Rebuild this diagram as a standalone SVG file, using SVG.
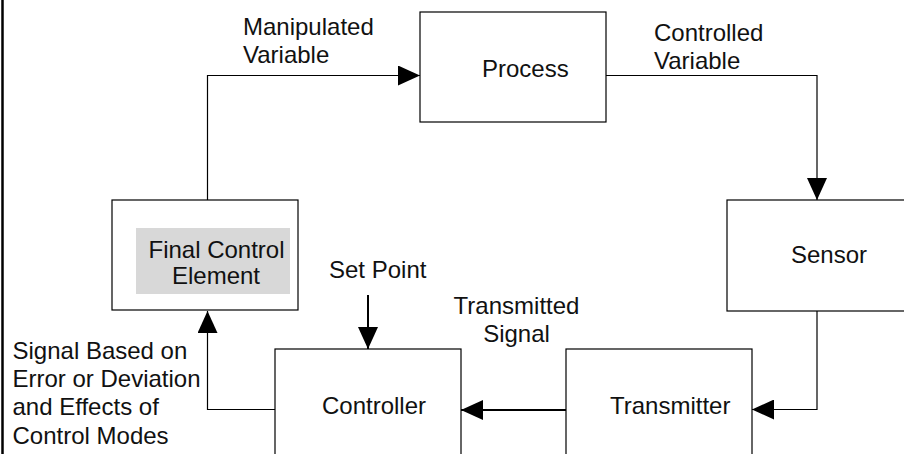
<svg xmlns="http://www.w3.org/2000/svg" width="904" height="454" viewBox="0 0 904 454">
  <style>
    .box { fill: #ffffff; stroke: #000000; stroke-width: 1.2; }
    .wire { fill: none; stroke: #000000; stroke-width: 1.2; }
    .wire.bold { stroke-width: 2; }
    text { font-family: "Liberation Sans", Arial, Helvetica, sans-serif; font-size: 24px; fill: #111111; }
    .mid { text-anchor: middle; }
  </style>
  <defs>
    <marker id="head" markerUnits="userSpaceOnUse" markerWidth="22" markerHeight="20" refX="22" refY="10" orient="auto">
      <path d="M0,0 L22,10 L0,20 Z" fill="#000000"/>
    </marker>
  </defs>

  <rect width="904" height="454" fill="#ffffff"/>
  <!-- left frame edge -->
  <line x1="2.5" y1="0" x2="2.5" y2="454" stroke="#000000" stroke-width="2.5"/>

  <g id="process">
    <rect class="box" x="420" y="12" width="186" height="110"/>
    <text x="482" y="77">Process</text>
  </g>

  <g id="sensor">
    <rect class="box" x="727" y="200" width="186" height="111"/>
    <text x="791" y="263">Sensor</text>
  </g>

  <g id="transmitter">
    <rect class="box" x="566" y="349" width="186" height="112"/>
    <text x="610" y="414">Transmitter</text>
  </g>

  <g id="controller">
    <rect class="box" x="275" y="349" width="186" height="112"/>
    <text x="322" y="414">Controller</text>
  </g>

  <g id="final-control-element">
    <rect class="box" x="112" y="200" width="186" height="110"/>
    <rect x="136" y="228" width="154" height="66" fill="#d8d8d8"/>
    <text class="mid" x="216.5" y="258">Final Control</text>
    <text class="mid" x="216" y="284">Element</text>
  </g>

  <g id="connectors">
    <path class="wire" d="M207.5,200 V75.5 H420" marker-end="url(#head)"/>
    <path class="wire" d="M606,75.5 H817 V200" marker-end="url(#head)"/>
    <path class="wire" d="M817,311 V409.5 H752" marker-end="url(#head)"/>
    <path class="wire bold" d="M566,410 H461" marker-end="url(#head)"/>
    <path class="wire" d="M275,409.5 H207.5 V311" marker-end="url(#head)"/>
    <path class="wire bold" d="M368,295 V349" marker-end="url(#head)"/>
  </g>

  <g id="labels">
    <text x="243" y="34.5">Manipulated</text>
    <text x="243" y="63">Variable</text>
    <text x="654" y="41">Controlled</text>
    <text x="654" y="69">Variable</text>
    <text x="329" y="277.5">Set Point</text>
    <text class="mid" x="516.5" y="314">Transmitted</text>
    <text class="mid" x="516.5" y="342">Signal</text>
    <text x="12.5" y="358.5">Signal Based on</text>
    <text x="12.5" y="387">Error or Deviation</text>
    <text x="12.5" y="415.3">and Effects of</text>
    <text x="12.5" y="443.6">Control Modes</text>
  </g>
</svg>
